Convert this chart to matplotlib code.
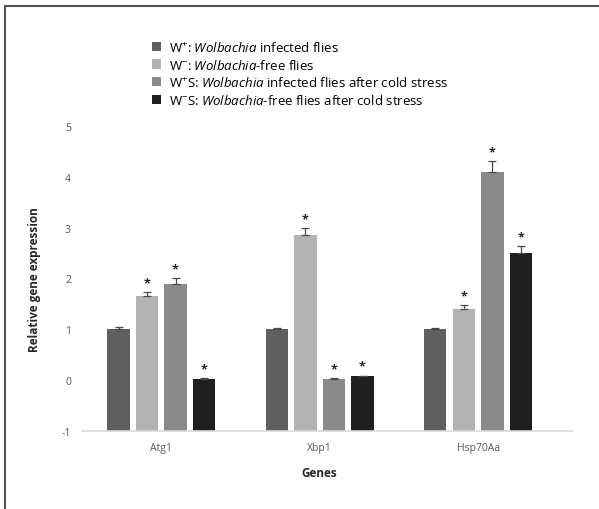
import numpy as np
import matplotlib
matplotlib.use("Agg")
import matplotlib.pyplot as plt
from matplotlib.lines import Line2D
from matplotlib.patches import Patch

# --- Data ---
genes = ['Atg1', 'Xbp1', 'Hsp70Aa']
groups = [
    r'W$^{+}$: $\it{Wolbachia}$ infected flies',
    r'W$^{-}$: $\it{Wolbachia}$-free flies',
    r'W$^{+}$S: $\it{Wolbachia}$ infected flies after cold stress',
    r'W$^{-}$S: $\it{Wolbachia}$-free flies after cold stress',
]
w_plus = [1.0, 1.0, 1.0]
w_minus = [1.65, 2.85, 1.40]
w_plus_s = [1.90, 0.03, 4.10]
w_minus_s = [0.03, 0.08, 2.51]

err_w_plus = [0.04, 0.03, 0.03]
err_w_minus = [0.08, 0.15, 0.07]
err_w_plus_s = [0.10, 0.01, 0.21]
err_w_minus_s = [0.01, 0.01, 0.12]

signif_w_plus = [False, False, False]
signif_w_minus = [True, True, True]
signif_w_plus_s = [True, True, True]
signif_w_minus_s = [True, True, True]

colors = ['#5f5f5f', '#b3b3b3', '#8a8a8a', '#1f1f1f']

plt.rcParams['font.family'] = ['Open Sans', 'DejaVu Sans']
plt.rcParams['mathtext.fontset'] = 'custom'
plt.rcParams['mathtext.rm'] = 'Open Sans'
plt.rcParams['mathtext.it'] = 'Open Sans:italic'
plt.rcParams['axes.unicode_minus'] = False

fig = plt.figure(figsize=(5.99, 5.10), dpi=100)
ax = fig.add_axes([0.137, 0.153, 0.82, 0.598])

base = -1
x = np.arange(len(genes))
width = 0.14
step = 0.18
series = [w_plus, w_minus, w_plus_s, w_minus_s]
errors = [err_w_plus, err_w_minus, err_w_plus_s, err_w_minus_s]
signifs = [signif_w_plus, signif_w_minus, signif_w_plus_s, signif_w_minus_s]

for i, (vals, errs, sig) in enumerate(zip(series, errors, signifs)):
    pos = x + (i - 1.5) * step
    vals = np.array(vals)
    ax.bar(pos, vals - base, width, bottom=base, color=colors[i], label=groups[i], zorder=2)
    ax.errorbar(pos, vals, yerr=[np.zeros(len(vals)), errs], fmt='none',
                ecolor='#4a4a4a', elinewidth=0.9, capsize=3, capthick=0.9, zorder=3)
    for p, v, e, s in zip(pos, vals, errs, sig):
        if s:
            ax.annotate('*', (p, v + e), xytext=(0, 2), textcoords='offset points',
                        ha='center', va='bottom', fontsize=9, fontweight='bold', color='#222222')

ax.set_ylim(-1, 5)
ax.set_xlim(-0.5, 2.6)
ax.set_yticks(range(-1, 6))
ax.set_xticks(x)
ax.set_xticklabels(genes)
ax.tick_params(axis='both', length=0, labelsize=7.5, colors='#595959', pad=8)
for side in ['top', 'right', 'left']:
    ax.spines[side].set_visible(False)
ax.spines['bottom'].set_color('#d9d9d9')
ax.spines['bottom'].set_linewidth(1.2)

ax.set_xlabel('Genes', fontsize=8.5, fontweight='bold', color='#262626')
ax.xaxis.set_label_coords(0.483, -0.115)
ax.set_ylabel('Relative gene expression', fontsize=8.5, fontweight='bold', color='#262626')
ax.yaxis.set_label_coords(-0.083, 0.5)

handles = [Patch(facecolor=c) for c in colors]
fig.legend(handles, groups, loc='upper left', bbox_to_anchor=(0.245, 0.93),
           frameon=False, fontsize=9.5, handlelength=0.7, handleheight=0.7,
           handletextpad=0.6, labelspacing=0.28, borderaxespad=0)

# outer frame (left and top edges)
fig.add_artist(Line2D([0.009, 0.009], [0, 0.986], color='#555555', lw=1.5))
fig.add_artist(Line2D([0.009, 1.0], [0.986, 0.986], color='#555555', lw=1.5))

fig.savefig('out.png', dpi=100)
